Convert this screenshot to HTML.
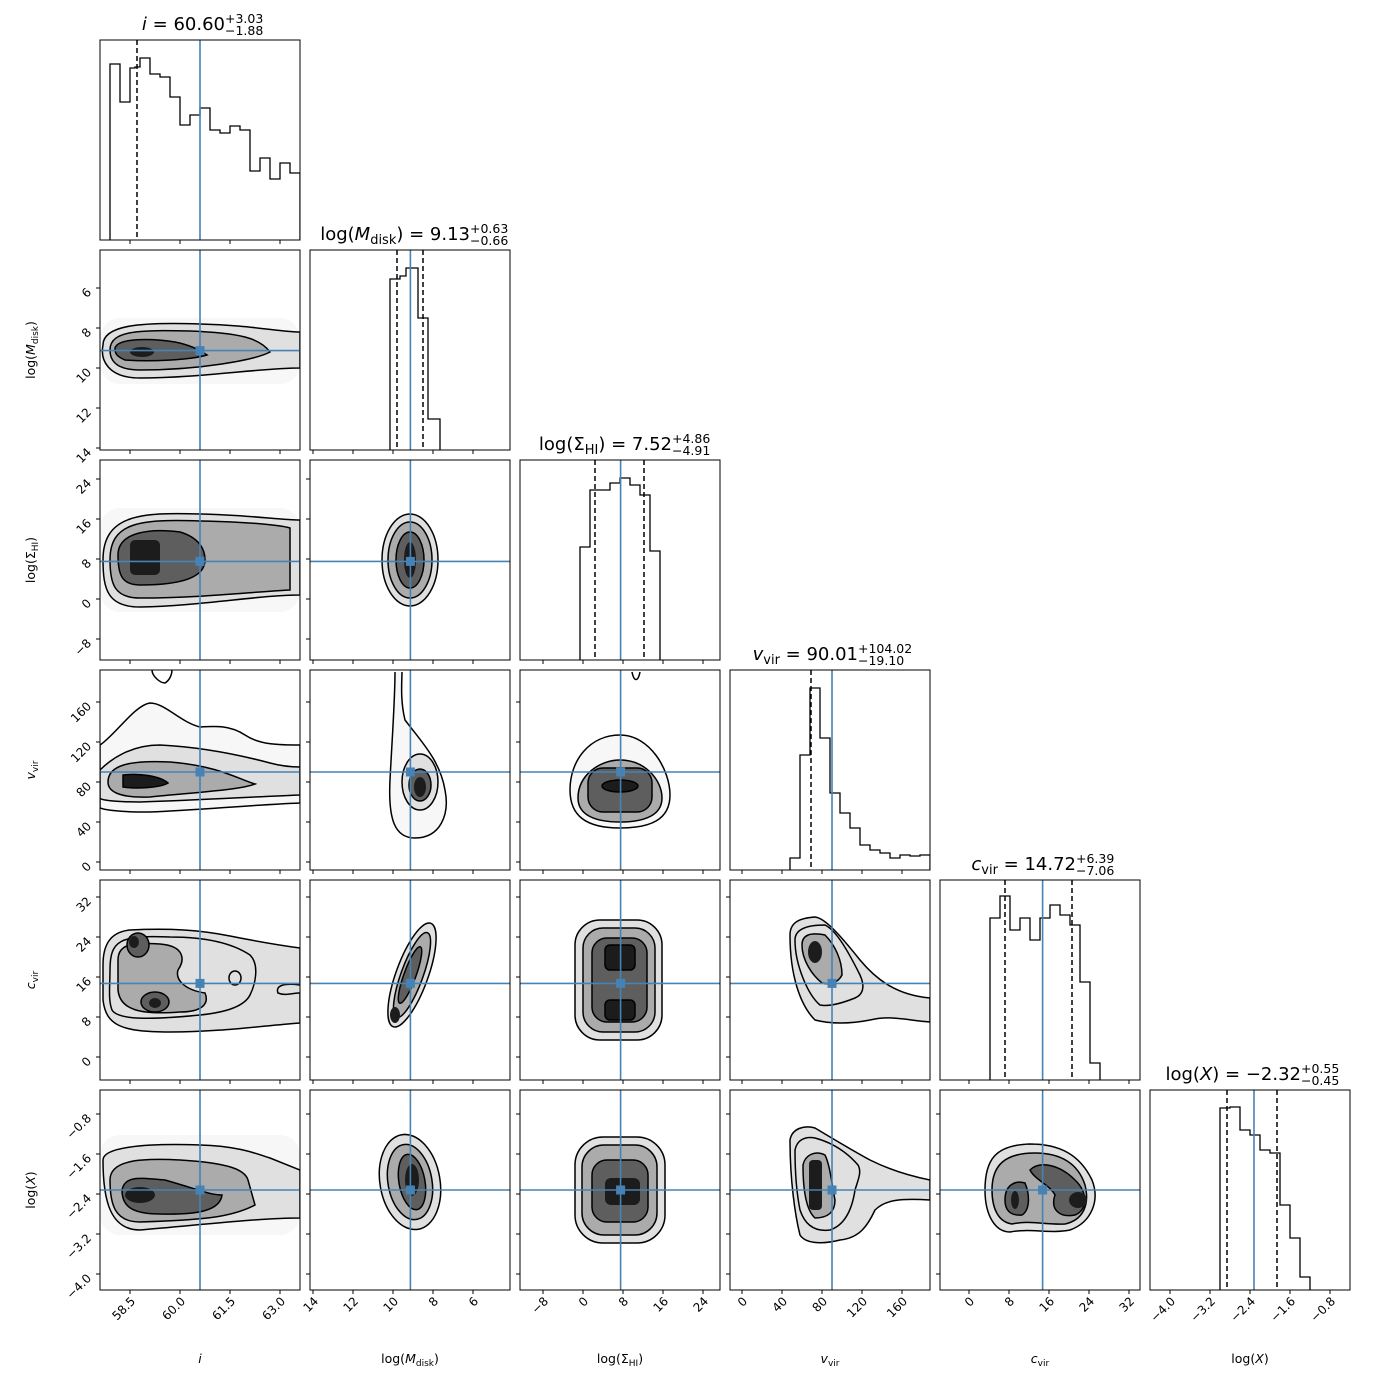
<!DOCTYPE html>
<html><head><meta charset="utf-8"><style>
html,body{margin:0;padding:0;background:#fff;}
svg text{font-family:"DejaVu Sans","Liberation Sans",sans-serif;fill:#000;}
</style></head><body>
<svg id="s" xmlns="http://www.w3.org/2000/svg" width="1390" height="1390" viewBox="0 0 1390 1390"></svg>
<script>
const S=document.getElementById('s');
let h='';
const L=[100,310,520,730,940,1150];
const T=[40,250,460,670,880,1090];
const px=[v=>130+(v-58.5)*33.333,v=>313+(14-v)*20,v=>543+(v+8)*5,v=>742+v,v=>969+5*v,v=>1170+(v+4)*50];
const py=[null,v=>288+(v-6)*20,v=>479+(24-v)*5,v=>702+(160-v),v=>897+(32-v)*5,v=>1114+(-0.8-v)*50];
const TK=[[58.5,60,61.5,63],[14,12,10,8,6],[-8,0,8,16,24],[0,40,80,120,160],[0,8,16,24,32],[-4,-3.2,-2.4,-1.6,-0.8]];
const TLY=[null,[6,8,10,12,14],[24,16,8,0,-8],[160,120,80,40,0],[32,24,16,8,0],[-0.8,-1.6,-2.4,-3.2,-4]];
const TLYs=[null,["6","8","10","12","14"],["24","16","8","0","−8"],["160","120","80","40","0"],["32","24","16","8","0"],["−0.8","−1.6","−2.4","−3.2","−4.0"]];
const TL=[["58.5","60.0","61.5","63.0"],["14","12","10","8","6"],["−8","0","8","16","24"],["0","40","80","120","160"],["0","8","16","24","32"],["−4.0","−3.2","−2.4","−1.6","−0.8"]];
const tr=[60.60,9.13,7.52,90.01,14.72,-2.32];
const BL='#4682b4';
h+='<defs>';
for(let r=0;r<6;r++)for(let c=0;c<=r;c++)h+=`<clipPath id="c${r}${c}"><rect x="${L[c]}" y="${T[r]}" width="200" height="200"/></clipPath>`;
h+='</defs>';
const F=['#f7f7f7','#e0e0e0','#ababab','#5e5e5e','#1c1c1c'];
function P(d,l,st=true){return `<path d="${d}" fill="${F[l]}" stroke="${st?'#000':'none'}" stroke-width="1.5"/>`;}
function E(cx,cy,rx,ry,l,st=true,rot=0){return `<ellipse cx="${cx}" cy="${cy}" rx="${rx}" ry="${ry}" fill="${F[l]}" stroke="${st?'#000':'none'}" stroke-width="1.5" transform="rotate(${rot} ${cx} ${cy})"/>`;}
function R(x1,y1,x2,y2,rr,l,st=true){return `<rect x="${x1}" y="${y1}" width="${x2-x1}" height="${y2-y1}" rx="${rr}" fill="${F[l]}" stroke="${st?'#000':'none'}" stroke-width="1.5"/>`;}
const C={};
C['10']=R(100,318,300,384,20,0,false)+P("M103,345 C103,325 140,322 200,324 C250,325 280,332 300,332 L300,368 C260,368 200,378 140,378 C108,378 100,360 103,345 Z",1)+P("M110,350 C110,330 140,330 190,331 C240,333 260,338 270,352 C255,360 200,370 140,370 C115,370 110,360 110,350Z",2)+P("M115,348 C118,338 150,338 175,342 C190,345 200,350 207,355 C190,360 150,362 125,360 C115,356 115,352 115,348Z",3)+E(142,352,12,5,4,false);
C['20']=R(100,508,300,612,20,0,false)+P("M103,560 C103,515 140,512 200,514 C250,515 280,520 300,520 L300,595 C260,595 200,606 140,607 C108,607 103,590 103,560Z",1)+P("M110,560 C110,522 140,519 200,521 C250,522 280,525 290,528 L290,590 C250,592 200,598 140,598 C115,598 110,585 110,560Z",2)+P("M118,555 C118,532 150,528 180,532 C200,538 205,550 205,560 C205,578 180,585 140,585 C122,585 118,575 118,555Z",3)+R(130,540,160,575,5,4,false);
C['30']=P("M100,745 C115,735 135,705 150,703 C165,703 180,722 200,727 C215,726 230,725 245,735 C260,745 280,745 300,745 L300,803 C250,805 200,810 150,812 C120,812 105,810 100,808 Z",0)+P("M100,770 C110,760 130,745 160,745 C200,747 240,755 270,763 C285,767 295,767 300,767 L300,795 C250,797 200,800 140,802 C115,802 100,800 100,798 Z",1)+P("M108,782 C108,765 130,760 170,762 C220,766 240,780 255,784 C240,790 200,792 150,797 C120,798 108,792 108,782Z",2)+P("M123,775 C140,773 160,776 168,783 C160,788 135,789 123,787Z",4)+`<path d="M152,670 C152,676 160,683 165,683 C170,680 172,674 172,670" fill="none" stroke="#000" stroke-width="1.5"/>`;
C['40']=P("M103,965 C103,945 110,932 130,930 C170,928 200,930 230,936 C260,942 285,946 300,948 L300,1023 C260,1026 220,1032 170,1032 C120,1032 106,1025 103,1000Z",1)+P("M110,970 C110,940 120,935 170,937 C210,937 235,945 250,955 C260,965 255,985 250,995 C245,1005 230,1012 200,1015 C150,1020 118,1020 112,1010 C108,1000 110,985 110,970Z",1)+P("M118,960 C118,945 130,942 160,944 C185,946 185,960 178,970 C175,980 185,990 205,993 C210,1005 200,1012 180,1012 C140,1015 120,1010 118,990Z",2)+E(138,945,11,12,3)+E(155,1002,14,10,3)+E(134,942,5,6,4,false)+E(155,1003,6,5,4,false)+E(235,978,6,7,1)+`<path d="M300,985 C285,983 275,985 278,993 C285,996 292,993 300,993" fill="${F[1]}" stroke="#000" stroke-width="1.5"/>`;
C['50']=R(100,1135,300,1235,20,0,false)+P("M103,1160 C103,1148 140,1143 200,1145 C240,1146 260,1155 270,1158 L300,1170 L300,1218 C260,1218 200,1225 140,1230 C110,1230 103,1200 103,1160Z",1)+P("M110,1180 C110,1160 140,1158 180,1160 C230,1163 245,1170 248,1180 L255,1205 C230,1218 200,1220 140,1222 C115,1222 110,1205 110,1180Z",2)+P("M122,1190 C125,1175 140,1178 165,1180 C200,1190 210,1195 222,1195 C220,1210 200,1215 160,1214 C130,1214 122,1205 122,1190Z",3)+E(140,1195,15,8,4,false);
C['21']=E(410,560,28,46,1)+E(410,560,22,38,2)+E(410,560,14,28,3)+E(410,560,6,18,4,false);
C['31']=P("M395,672 C395,700 392,740 390,780 C388,820 395,838 415,838 C440,838 450,815 445,790 C440,760 420,740 405,720 C400,700 402,680 402,672",0)+E(420,782,18,28,1)+E(420,785,11,16,3)+E(420,787,6,10,4,false);
C['41']=E(412,975,16,55,1,true,20)+E(412,975,11,45,2,true,20)+E(410,975,6,30,3,true,20)+E(395,1015,5,8,4,false);
C['51']=E(410,1182,30,48,1,true,-10)+E(410,1182,22,38,2,true,-10)+E(412,1182,13,28,3,true,-10)+E(412,1180,7,16,4,false);
C['32']=P("M570,790 C570,760 590,735 620,735 C650,735 670,770 670,795 C670,820 650,828 620,828 C585,828 570,815 570,790Z",0)+P("M578,798 C578,775 600,760 620,760 C645,760 662,780 662,798 C662,815 645,822 620,822 C595,822 578,815 578,798Z",2)+R(588,768,652,812,15,3)+E(620,786,18,6,4)+`<path d="M632,672 C634,682 638,682 640,672" fill="none" stroke="#000" stroke-width="1.5"/>`;
C['42']=R(575,920,662,1040,25,1)+R(583,928,655,1032,20,2)+R(592,938,647,1022,15,3)+R(605,945,635,970,5,4)+R(605,1000,635,1020,5,4);
C['52']=R(575,1137,665,1243,28,1)+R(582,1145,657,1235,22,2)+R(592,1160,648,1222,15,3)+R(605,1178,640,1205,6,4,false);
C['43']=P("M790,935 C790,922 800,918 815,917 C825,918 840,935 860,960 C875,978 895,995 930,998 L930,1022 C905,1020 890,1015 870,1020 C850,1024 830,1024 815,1020 C800,1005 790,975 790,935Z",1)+P("M795,940 C795,930 805,925 825,925 C835,930 845,945 860,975 C866,988 862,995 855,998 C845,1002 830,1007 820,1005 C808,995 795,965 795,940Z",1)+P("M802,945 C802,935 810,932 825,935 C835,945 842,960 842,975 C838,983 830,985 822,983 C812,975 802,960 802,945Z",2)+E(815,952,7,11,4,false);
C['53']=P("M790,1140 C792,1128 805,1125 815,1128 C835,1140 855,1152 870,1160 C890,1170 910,1176 930,1180 L930,1200 C900,1198 885,1200 875,1210 C868,1225 860,1238 840,1240 C820,1245 805,1243 800,1235 C795,1215 790,1180 790,1140Z",1)+P("M795,1150 C797,1140 805,1136 815,1138 C830,1142 845,1150 858,1165 C862,1172 858,1180 855,1190 C852,1210 845,1225 830,1230 C815,1232 805,1225 800,1210 C796,1190 795,1170 795,1150Z",1)+P("M803,1165 C805,1155 815,1150 825,1155 C830,1165 832,1185 835,1200 C835,1212 828,1218 815,1218 C806,1210 803,1190 803,1165Z",2)+R(809,1160,822,1210,4,4,false);
C['54']=P("M985,1190 C985,1160 995,1145 1030,1144 C1060,1144 1080,1155 1092,1180 C1100,1200 1092,1222 1070,1230 C1050,1234 1030,1228 1010,1232 C995,1232 985,1215 985,1190Z",1)+P("M992,1190 C992,1165 1005,1153 1035,1153 C1060,1153 1078,1163 1085,1185 C1090,1205 1083,1220 1065,1224 C1045,1225 1030,1220 1012,1224 C998,1222 992,1208 992,1190Z",2)+P("M1005,1200 C1005,1185 1015,1180 1025,1183 C1030,1195 1030,1210 1022,1215 C1010,1216 1005,1210 1005,1200Z",3)+P("M1030,1170 C1040,1160 1060,1165 1075,1180 C1088,1192 1088,1210 1075,1215 C1060,1218 1050,1210 1055,1195 C1050,1185 1035,1180 1030,1170Z",3)+E(1078,1200,9,8,4,false)+E(1015,1200,4,9,4,false);
function hist(xs,ys,base){let d=`M${xs[0]},${base}`;for(let i=0;i<ys.length;i++){d+=` L${xs[i]},${ys[i]} L${xs[i+1]},${ys[i]}`;}d+=` L${xs[xs.length-1]},${base}`;return `<path d="${d}" fill="none" stroke="#000" stroke-width="1.3"/>`;}
const H={};
H[0]=hist([110,120,130,135,140,150,160,170,180,190,200,210,220,230,240,250,260,270,280,290,300],[64,102,68,67,58,74,77,97,125,115,108,130,133,126,130,171,158,179,163,173],240);
H[1]=hist([390,400,406,418,428,440],[279,276,268,318,419],450);
H[2]=hist([580,590,610,620,630,640,650,660],[547,490,483,478,485,495,551],660);
H[3]=hist([790,800,810,820,830,840,850,860,870,880,890,900,910,920,930],[858,755,688,738,793,813,828,845,850,853,858,855,856,855],870);
H[4]=hist([990,1000,1010,1020,1030,1040,1050,1060,1070,1080,1090,1100],[918,896,930,918,940,918,905,915,925,982,1063],1080);
H[5]=hist([1220,1230,1240,1250,1260,1270,1280,1290,1300,1310],[1108,1107,1130,1135,1150,1153,1205,1238,1277],1290);
const DQ=[[137],[397,423],[595,644],[811],[1005,1072],[1227,1277]];
for(let r=0;r<6;r++)for(let c=0;c<=r;c++){
  const x0=L[c],y0=T[r];
  h+=`<g clip-path="url(#c${r}${c})">`;
  if(r==c){
    h+=H[r];
    DQ[r].forEach(x=>h+=`<line x1="${x}" y1="${y0}" x2="${x}" y2="${y0+200}" stroke="#000" stroke-width="1.5" stroke-dasharray="5,3"/>`);
    const bx=px[c](tr[c]);
    h+=`<line x1="${bx}" y1="${y0}" x2="${bx}" y2="${y0+200}" stroke="${BL}" stroke-width="1.6"/>`;
  } else {
    h+=C[''+r+c]||'';
    const bx=px[c](tr[c]),by=py[r](tr[r]);
    h+=`<line x1="${bx}" y1="${y0}" x2="${bx}" y2="${y0+200}" stroke="${BL}" stroke-width="1.6"/>`;
    h+=`<line x1="${x0}" y1="${by}" x2="${x0+200}" y2="${by}" stroke="${BL}" stroke-width="1.6"/>`;
    h+=`<rect x="${bx-4.5}" y="${by-4.5}" width="9" height="9" fill="${BL}"/>`;
  }
  h+='</g>';
  h+=`<rect x="${x0}" y="${y0}" width="200" height="200" fill="none" stroke="#000" stroke-width="1"/>`;
  TK[c].forEach((v,i)=>{const x=px[c](v);h+=`<line x1="${x}" y1="${y0+200}" x2="${x}" y2="${y0+204}" stroke="#000"/>`;
    if(r==5)h+=`<text font-size="12" text-anchor="end" transform="translate(${x+6},${y0+212}) rotate(-45)">${TL[c][i]}</text>`;});
  if(c<r){TLY[r].forEach((v,i)=>{const y=py[r](v);h+=`<line x1="${x0-4}" y1="${y}" x2="${x0}" y2="${y}" stroke="#000"/>`;
    if(c==0)h+=`<text font-size="12" text-anchor="end" transform="translate(${x0-8},${y+5}) rotate(-45)">${TLYs[r][i]}</text>`;});}
}
const XL=['<tspan font-style="italic">i</tspan>','log(<tspan font-style="italic">M</tspan><tspan font-size="9" dy="3">disk</tspan><tspan dy="-3">)</tspan>','log(Σ<tspan font-size="9" dy="3">HI</tspan><tspan dy="-3">)</tspan>','<tspan font-style="italic">v</tspan><tspan font-size="9" dy="3">vir</tspan>','<tspan font-style="italic">c</tspan><tspan font-size="9" dy="3">vir</tspan>','log(<tspan font-style="italic">X</tspan>)'];
for(let c=0;c<6;c++)h+=`<text font-size="12.5" text-anchor="middle" x="${L[c]+100}" y="1363">${XL[c]}</text>`;
for(let r=1;r<6;r++)h+=`<text font-size="12.5" text-anchor="middle" transform="translate(35,${T[r]+100}) rotate(-90)">${XL[r]}</text>`;
const TT=[['<tspan font-style="italic">i</tspan> = 60.60','+3.03','−1.88',225],
['log(<tspan font-style="italic">M</tspan><tspan font-size="13" dy="4">disk</tspan><tspan dy="-4">) = 9.13</tspan>','+0.63','−0.66',470],
['log(Σ<tspan font-size="13" dy="4">HI</tspan><tspan dy="-4">) = 7.52</tspan>','+4.86','−4.91',672],
['<tspan font-style="italic">v</tspan><tspan font-size="13" dy="4">vir</tspan><tspan dy="-4"> = 90.01</tspan>','+104.02','−19.10',858],
['<tspan font-style="italic">c</tspan><tspan font-size="13" dy="4">vir</tspan><tspan dy="-4"> = 14.72</tspan>','+6.39','−7.06',1076],
['log(<tspan font-style="italic">X</tspan>) = −2.32','+0.55','−0.45',1301]];
for(let c=0;c<6;c++){const t=TT[c],y=T[c];
  h+=`<text font-size="18" text-anchor="end" x="${t[3]}" y="${y-10}">${t[0]}</text>`;
  h+=`<text font-size="12.5" x="${t[3]}" y="${y-17}">${t[1]}</text>`;
  h+=`<text font-size="12.5" x="${t[3]}" y="${y-5}">${t[2]}</text>`;}
S.innerHTML=h;
</script>
</body></html>
